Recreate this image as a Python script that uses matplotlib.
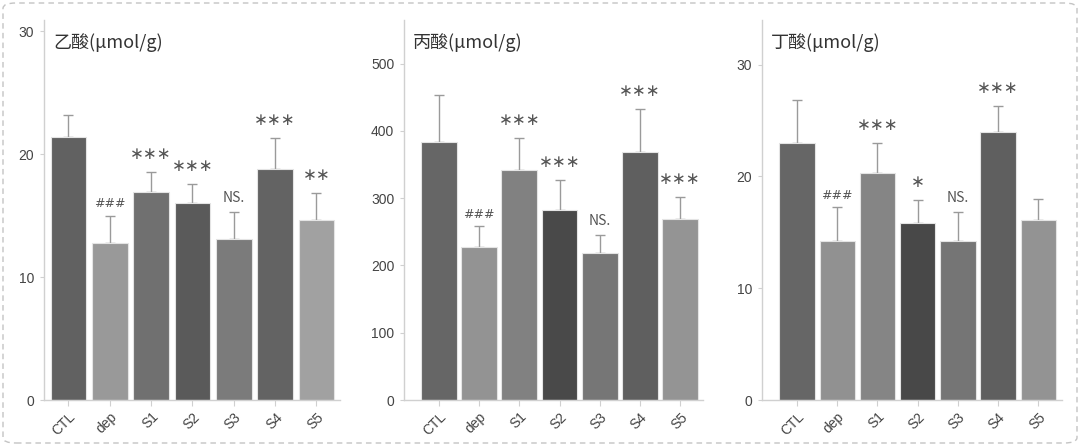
import matplotlib
matplotlib.use("Agg")
import matplotlib.pyplot as plt
from matplotlib.patches import FancyBboxPatch

plt.rcParams["font.family"] = ["Liberation Sans", "Noto Sans CJK SC", "DejaVu Sans"]

groups = ["CTL", "dep", "S1", "S2", "S3", "S4", "S5"]

acetic_mean = [21.4, 12.8, 16.9, 16.0, 13.1, 18.8, 14.6]
acetic_err = [1.8, 2.2, 1.6, 1.6, 2.2, 2.5, 2.25]
acetic_marks = ["", "###", "∗∗∗", "∗∗∗", "NS.", "∗∗∗", "∗∗"]
acetic_colors = ["#616161", "#999999", "#707070", "#5a5a5a", "#7b7b7b", "#636363", "#a1a1a1"]

propionic_mean = [383, 228, 342, 282, 219, 368, 269]
propionic_err = [70, 30, 48, 45, 26, 65, 33]
propionic_marks = ["", "###", "∗∗∗", "∗∗∗", "NS.", "∗∗∗", "∗∗∗"]
propionic_colors = ["#666666", "#939393", "#818181", "#494949", "#767676", "#5f5f5f", "#949494"]

butyric_mean = [23.0, 14.2, 20.35, 15.85, 14.2, 24.0, 16.15]
butyric_err = [3.8, 3.05, 2.65, 2.05, 2.6, 2.3, 1.85]
butyric_marks = ["", "###", "∗∗∗", "∗", "NS.", "∗∗∗", ""]
butyric_colors = ["#666666", "#919191", "#858585", "#484848", "#757575", "#5f5f5f", "#939393"]

panels = [
    ("乙酸(μmol/g)", acetic_mean, acetic_err, acetic_marks, acetic_colors,
     [0, 10, 20, 30], (0, 30.9), (-0.59, 6.57), 0.86, [44, 340]),
    ("丙酸(μmol/g)", propionic_mean, propionic_err, propionic_marks, propionic_colors,
     [0, 100, 200, 300, 400, 500], (0, 565), (-0.87, 6.57), 0.89, [404, 703]),
    ("丁酸(μmol/g)", butyric_mean, butyric_err, butyric_marks, butyric_colors,
     [0, 10, 20, 30], (0, 34), (-0.87, 6.59), 0.88, [762, 1062]),
]

W, H = 1080, 446
fig = plt.figure(figsize=(W / 100, H / 100), dpi=100)

border = FancyBboxPatch((3 / W, 3 / H), 1 - 6 / W, 1 - 6 / H,
                        boxstyle="round,pad=0,rounding_size=0.012",
                        transform=fig.transFigure, fill=False,
                        edgecolor="#c4c4c4", linewidth=1.0, linestyle=(0, (4, 3)))
fig.patches.append(border)

axis_color = "#d0d0d0"
text_color = "#444444"

for title, mean, err, marks, colors, yticks, ylim, xlim, width, (x0, x1) in panels:
    ax = fig.add_axes([x0 / W, (H - 400) / H, (x1 - x0) / W, 380 / H])
    x = list(range(len(groups)))
    ax.errorbar(x, mean, yerr=[[0] * len(err), err], fmt="none",
                ecolor="#9a9a9a", elinewidth=1.0, capsize=3.5, capthick=1.0, zorder=1)
    ax.bar(x, mean, width=width, color=colors, edgecolor="#e4e4e4",
           linewidth=0.8, zorder=2)

    for xi, m, e, mark in zip(x, mean, err, marks):
        if not mark:
            continue
        if mark.startswith("∗"):
            size, off = 12, 18
            fam = ["DejaVu Sans"]
        elif mark == "###":
            size, off = 9, 12
            fam = ["DejaVu Sans"]
        else:
            size, off = 10, 14
            fam = ["Noto Sans CJK SC", "DejaVu Sans"]
        ax.annotate(mark, (xi, m + e), xytext=(0, off), textcoords="offset pixels",
                    ha="center", va="center", fontsize=size, color="#555555",
                    family=fam, zorder=3)

    ax.set_xlim(*xlim)
    ax.set_ylim(*ylim)
    ax.set_yticks(yticks)
    ax.set_xticks(x)
    ax.set_xticklabels(groups, rotation=45, ha="right", rotation_mode="anchor")
    ax.tick_params(axis="x", length=4, color=axis_color, labelsize=10,
                   labelcolor=text_color, pad=3)
    ax.tick_params(axis="y", length=3, color=axis_color, labelsize=10,
                   labelcolor=text_color, pad=4)
    for side in ["top", "right"]:
        ax.spines[side].set_visible(False)
    for side in ["left", "bottom"]:
        ax.spines[side].set_color(axis_color)
        ax.spines[side].set_linewidth(1.0)

    ax.text(0.03, 0.94, title, transform=ax.transAxes, ha="left", va="center",
            fontsize=13, color="#333333", family=["Noto Sans CJK SC", "DejaVu Sans"])

fig.savefig("out.png", dpi=100)
